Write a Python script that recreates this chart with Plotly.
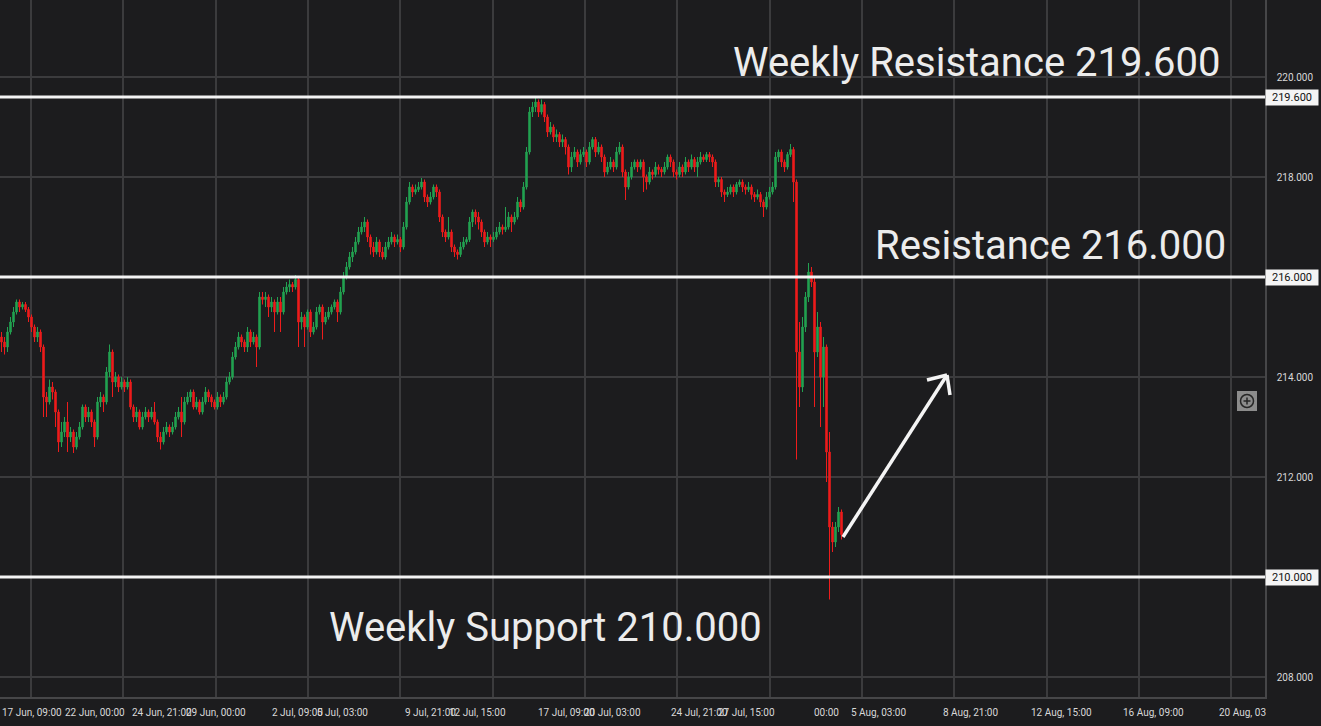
import plotly.graph_objects as go

# hourly-ish candles (open = previous close)
first_open = 214.8
closes = [
    214.7, 214.6, 214.9, 215.1, 215.3, 215.5, 215.4, 215.45, 215.35, 215.2,
    215.0, 214.8, 214.9, 214.6, 213.6, 213.5, 213.8, 213.7, 213.3, 212.7,
    212.9, 213.1, 212.8, 212.9, 212.6, 212.8, 213.0, 213.4, 213.2, 213.3,
    213.1, 212.8, 213.5, 213.6, 213.5, 214.1, 214.5, 213.9, 214.0, 213.8,
    213.9, 213.8, 213.9, 213.4, 213.2, 213.3, 213.0, 213.2, 213.3, 213.2,
    213.3, 213.1, 212.8, 212.7, 212.9, 213.0, 212.9, 213.0, 213.2, 213.3,
    213.1, 213.5, 213.6, 213.7, 213.4, 213.5, 213.3, 213.5, 213.7, 213.6,
    213.5, 213.4, 213.6, 213.5, 213.6, 213.9, 214.0, 214.4, 214.6, 214.8,
    214.7, 214.6, 214.9, 214.7, 214.8, 214.6, 215.6, 215.55, 215.6, 215.4,
    215.5, 215.3, 215.5, 215.3, 215.7, 215.8, 215.85, 215.8, 215.95, 215.1,
    215.2, 215.0, 215.3, 214.9, 215.0, 215.3, 215.4, 215.1, 215.2, 215.3,
    215.4, 215.5, 215.3, 215.7, 216.0, 216.2, 216.4, 216.5, 216.7, 216.9,
    217.0, 217.1, 216.8, 216.6, 216.5, 216.7, 216.5, 216.4, 216.6, 216.7,
    216.8, 216.7, 216.75, 216.6, 217.0, 217.5, 217.8, 217.7, 217.75, 217.8,
    217.9, 217.6, 217.5, 217.6, 217.8, 217.7, 217.2, 216.9, 216.8, 216.9,
    216.6, 216.5, 216.45, 216.6, 216.7, 216.75, 217.1, 217.3, 217.2, 217.1,
    216.9, 216.7, 216.8, 216.75, 216.8, 216.9, 217.0, 216.95, 217.0, 217.2,
    217.1, 217.2, 217.5, 217.4, 217.8, 218.5, 219.3, 219.4, 219.5, 219.3,
    219.45, 219.2, 218.9, 219.0, 218.8, 218.85, 218.7, 218.75, 218.6, 218.2,
    218.4, 218.5, 218.3, 218.45, 218.5, 218.3, 218.6, 218.75, 218.5, 218.6,
    218.4, 218.1, 218.2, 218.3, 218.2, 218.5, 218.6, 218.1, 217.8, 218.0,
    218.2, 218.3, 218.2, 218.3, 218.0, 217.9, 218.1, 218.05, 218.2, 218.15,
    218.1, 218.2, 218.4, 218.3, 218.1, 218.05, 218.2, 218.1, 218.3, 218.2,
    218.35, 218.2, 218.3, 218.4, 218.35, 218.45, 218.4, 218.3, 217.9, 217.95,
    217.7, 217.65, 217.7, 217.8, 217.7, 217.85, 217.9, 217.8, 217.75, 217.8,
    217.65, 217.6, 217.65, 217.5, 217.4, 217.6, 217.7, 217.8, 218.4, 218.5,
    218.3, 218.2, 218.45, 218.55, 217.9, 214.5, 213.8, 215.0, 215.6, 216.1,
    215.9, 214.5, 215.0, 214.0, 214.6, 212.5, 211.0, 210.7, 211.0, 211.3,
    210.85,
]
highs = [
    214.9, 214.8, 215.0, 215.2, 215.4, 215.55, 215.55, 215.5, 215.5, 215.4,
    215.25, 215.05, 215.0, 214.95, 214.65, 213.7, 213.95, 213.9, 213.75, 213.35,
    213.1, 213.2, 213.5, 213.0, 212.95, 212.9, 213.1, 213.45, 213.45, 213.4,
    213.35, 213.15, 213.6, 213.7, 213.65, 214.2, 214.65, 214.55, 214.1, 214.05,
    214.0, 213.95, 214.0, 213.95, 213.45, 213.4, 213.35, 213.3, 213.4, 213.35,
    213.4, 213.5, 213.15, 212.9, 213.0, 213.1, 213.05, 213.1, 213.3, 213.4,
    213.6, 213.6, 213.7, 213.75, 213.75, 213.6, 213.55, 213.6, 213.8, 213.75,
    213.65, 213.55, 213.7, 213.65, 213.7, 214.0, 214.1, 214.5, 214.7, 214.9,
    214.85, 214.75, 215.0, 214.95, 214.9, 214.85, 215.7, 215.7, 215.7, 215.65,
    215.6, 215.55, 215.6, 215.6, 215.8, 215.9, 215.95, 215.9, 216.04, 216.0,
    215.3, 215.25, 215.35, 215.35, 215.1, 215.4, 215.45, 215.45, 215.3, 215.4,
    215.45, 215.55, 215.55, 215.8, 216.1, 216.3, 216.5, 216.6, 216.8, 217.0,
    217.1, 217.2, 217.15, 216.85, 216.7, 216.8, 216.75, 216.6, 216.7, 216.8,
    216.9, 216.85, 216.85, 216.8, 217.1, 217.6, 217.9, 217.85, 217.85, 217.9,
    217.98, 217.95, 217.65, 217.7, 217.85, 217.85, 217.75, 217.25, 216.95, 217.2,
    216.95, 216.65, 216.55, 216.7, 216.8, 216.8, 217.2, 217.35, 217.35, 217.3,
    217.15, 216.95, 216.9, 216.85, 216.9, 217.0, 217.1, 217.05, 217.4, 217.3,
    217.25, 217.3, 217.6, 217.55, 217.9, 218.6, 219.4, 219.5, 219.58, 219.55,
    219.55, 219.5, 219.25, 219.1, 219.05, 218.95, 218.9, 218.85, 218.8, 218.65,
    218.5, 218.6, 218.55, 218.55, 218.6, 218.55, 218.7, 218.8, 218.8, 218.7,
    218.65, 218.45, 218.3, 218.4, 218.35, 218.6, 218.7, 218.65, 218.15, 218.1,
    218.3, 218.35, 218.35, 218.35, 218.35, 218.05, 218.2, 218.15, 218.3, 218.25,
    218.2, 218.3, 218.45, 218.45, 218.35, 218.15, 218.3, 218.25, 218.4, 218.35,
    218.45, 218.4, 218.4, 218.5, 218.45, 218.5, 218.5, 218.45, 218.35, 218.0,
    218.0, 217.75, 217.8, 217.85, 217.85, 217.9, 217.95, 217.95, 217.85, 217.9,
    217.85, 217.7, 217.75, 217.7, 217.55, 217.7, 217.8, 217.9, 218.5, 218.55,
    218.55, 218.35, 218.5, 218.66, 218.6, 217.95, 215.1, 215.2, 215.7, 216.28,
    216.2, 216.0, 215.3, 215.1, 214.8, 214.65, 212.9, 211.1, 211.1, 211.4,
    211.35,
]
lows = [
    214.5, 214.45, 214.5, 214.85, 215.0, 215.25, 215.3, 215.35, 215.3, 215.1,
    214.9, 214.7, 214.7, 214.5, 213.2, 213.2, 213.45, 213.55, 213.0, 212.5,
    212.6, 212.8, 212.5, 212.7, 212.48, 212.55, 212.75, 212.95, 213.1, 213.1,
    213.0, 212.6, 212.75, 213.4, 213.3, 213.45, 214.0, 213.6, 213.8, 213.7,
    213.75, 213.7, 213.75, 213.35, 213.1, 213.1, 212.95, 212.95, 213.15, 213.1,
    213.15, 213.05, 212.7, 212.55, 212.65, 212.85, 212.8, 212.85, 212.95, 213.15,
    212.8, 213.05, 213.45, 213.5, 213.35, 213.35, 213.25, 213.25, 213.45, 213.5,
    213.4, 213.35, 213.35, 213.4, 213.45, 213.55, 213.85, 213.95, 214.35, 214.55,
    214.6, 214.5, 214.5, 214.6, 214.65, 214.2, 214.55, 215.45, 215.4, 215.2,
    215.3, 214.9, 215.25, 214.9, 215.25, 215.65, 215.7, 215.7, 215.75, 214.6,
    214.95, 214.6, 214.95, 214.8, 214.85, 214.95, 215.25, 214.75, 215.05, 215.15,
    215.25, 215.35, 215.1, 215.25, 215.65, 215.95, 216.15, 216.3, 216.45, 216.65,
    216.85, 216.9, 216.7, 216.45, 216.4, 216.45, 216.4, 216.35, 216.35, 216.55,
    216.65, 216.6, 216.65, 216.5, 216.55, 216.95, 217.45, 217.6, 217.65, 217.7,
    217.75, 217.5, 217.4, 217.45, 217.55, 217.6, 217.1, 216.8, 216.7, 216.75,
    216.5, 216.4, 216.35, 216.4, 216.55, 216.65, 216.7, 217.0, 217.05, 216.95,
    216.8, 216.6, 216.65, 216.6, 216.7, 216.75, 216.85, 216.85, 216.9, 216.95,
    216.9, 217.05, 217.15, 217.3, 217.35, 217.75, 218.45, 219.2, 219.3, 219.2,
    219.25, 219.1, 218.8, 218.85, 218.7, 218.7, 218.6, 218.6, 218.45, 218.05,
    218.1, 218.35, 218.2, 218.25, 218.4, 218.2, 218.25, 218.55, 218.4, 218.45,
    218.3, 218.0, 218.05, 218.15, 218.1, 218.15, 218.45, 218.0, 217.54, 217.75,
    217.95, 218.15, 218.1, 218.15, 217.7, 217.75, 217.85, 217.95, 218.0, 218.05,
    218.0, 218.05, 218.15, 218.2, 218.0, 217.95, 218.0, 218.0, 218.05, 218.1,
    218.15, 218.1, 218.0, 218.25, 218.3, 218.3, 218.3, 218.2, 217.8, 217.8,
    217.6, 217.5, 217.6, 217.65, 217.6, 217.65, 217.8, 217.7, 217.65, 217.7,
    217.55, 217.5, 217.55, 217.4, 217.2, 217.35, 217.55, 217.65, 217.75, 218.3,
    218.2, 218.1, 218.15, 218.4, 217.5, 212.35, 213.4, 213.7, 214.9, 215.5,
    215.8, 213.4, 214.4, 213.0, 213.4, 211.9, 209.55, 210.5, 210.6, 210.9,
    210.75,
]
opens = [first_open] + closes[:-1]
candle_idx = list(range(len(closes)))

levels = [219.6, 216.0, 210.0]
level_tags = ["219.600", "216.000", "210.000"]
level_texts = ["Weekly Resistance 219.600", "Resistance 216.000", "Weekly Support 210.000"]
price_ticks = [208, 210, 212, 214, 216, 218, 220]
time_labels = ["17 Jun, 09:00", "22 Jun, 00:00", "24 Jun, 21:00", "29 Jun, 00:00",
               "2 Jul, 09:00", "5 Jul, 03:00", "9 Jul, 21:00", "12 Jul, 15:00",
               "17 Jul, 09:00", "20 Jul, 03:00", "24 Jul, 21:00", "27 Jul, 15:00",
               "00:00", "5 Aug, 03:00", "8 Aug, 21:00", "12 Aug, 15:00",
               "16 Aug, 09:00", "20 Aug, 03"]

# geometry (pixels)
W, H = 1321, 726
PW, PH = 1265, 697
BG = "#1c1c1e"
GRID = "#3b3b3d"
TXT = "#d8d8d8"
WHITE = "#f4f4f4"


def px2idx(p):
    return (p - 1.5) / 3.0


def py2price(p):
    return 220 - (p - 77) / 50.0


grid_px = [31, 123, 216, 308, 400, 493, 585, 677, 770, 862, 954, 1047, 1139, 1231]
label_px = [32, 95, 162, 216, 297, 342, 431, 477, 566, 612, 699, 746, 826, 878,
            970, 1061, 1153, 1217]

fig = go.Figure(go.Candlestick(
    x=candle_idx, open=opens, high=highs, low=lows, close=closes,
    increasing=dict(line=dict(color="#22a251", width=1), fillcolor="#22a251"),
    decreasing=dict(line=dict(color="#ee1c1c", width=1), fillcolor="#ee1c1c"),
    whiskerwidth=0, showlegend=False, hoverinfo="skip",
))

for lv, tag in zip(levels, level_tags):
    fig.add_shape(type="line", xref="paper", x0=0, x1=1, y0=lv, y1=lv,
                  line=dict(color=WHITE, width=3))
    fig.add_annotation(xref="paper", x=1, y=lv, xanchor="left", yanchor="middle",
                       text=tag, showarrow=False, bgcolor=WHITE, width=50,
                       font=dict(family="Roboto", size=11, color="#111"))

big = [(976, 62), (1050, 245), (545, 627)]
for t, (cx, cy) in zip(level_texts, big):
    fig.add_annotation(xref="paper", yref="paper", x=cx / PW, y=1 - cy / PH,
                       text=t, showarrow=False, xanchor="center", yanchor="middle",
                       font=dict(family="Roboto", size=40, color="#ececec"))

for t, p in zip(time_labels, label_px):
    last = t == time_labels[-1]
    fig.add_annotation(xref="paper", yref="paper", x=p / PW, y=-15 / PH,
                       text=t, showarrow=False,
                       xanchor="left" if last else "center", yanchor="middle",
                       font=dict(family="Roboto", size=10, color=TXT))

# hand-drawn arrow: shaft plus two open barbs
tip = (947, 375)
for start in [(843, 537), (927, 380), (950, 395)]:
    fig.add_shape(type="line", xref="x", yref="y",
                  x0=px2idx(start[0]), y0=py2price(start[1]),
                  x1=px2idx(tip[0]), y1=py2price(tip[1]),
                  line=dict(color=WHITE, width=3.5))

# zoom button
fig.add_shape(type="rect", xref="paper", yref="paper",
              x0=1237 / PW, x1=1257 / PW, y0=1 - 411 / PH, y1=1 - 391 / PH,
              fillcolor="#8c8c8c", line=dict(width=0))
fig.add_shape(type="circle", xref="paper", yref="paper",
              x0=1240.5 / PW, x1=1253.5 / PW, y0=1 - 407.5 / PH, y1=1 - 394.5 / PH,
              line=dict(color="#262626", width=1.5))
fig.add_shape(type="line", xref="paper", yref="paper",
              x0=1243.5 / PW, x1=1250.5 / PW, y0=1 - 401 / PH, y1=1 - 401 / PH,
              line=dict(color="#262626", width=1.5))
fig.add_shape(type="line", xref="paper", yref="paper",
              x0=1247 / PW, x1=1247 / PW, y0=1 - 404.5 / PH, y1=1 - 397.5 / PH,
              line=dict(color="#262626", width=1.5))

# tick labels at 210 and 216 sit under the level tags
tick_text = ["" if t in (210, 216) else f"{t:.3f}" for t in price_ticks]

fig.update_layout(
    width=W, height=H,
    margin=dict(l=0, r=W - PW, t=0, b=H - PH),
    paper_bgcolor=BG, plot_bgcolor=BG,
    font=dict(family="Roboto", color=TXT),
    xaxis=dict(range=[px2idx(0), px2idx(PW)], rangeslider=dict(visible=False),
               tickvals=[px2idx(p) for p in grid_px], showticklabels=False,
               showgrid=True, gridcolor=GRID, gridwidth=1.5, zeroline=False,
               showline=True, linecolor="#464648", linewidth=1.5, ticks=""),
    yaxis=dict(range=[220 - (PH - 77) / 50, 220 + 77 / 50], side="right",
               tickvals=price_ticks, ticktext=tick_text, showgrid=True,
               gridcolor=GRID, gridwidth=1.5, zeroline=False,
               showline=True, linecolor="#464648", linewidth=1.5, ticks="",
               ticklabelstandoff=8, tickfont=dict(size=10, color=TXT)),
)

fig.write_html("out.html", config={"displayModeBar": False},
               post_script="document.body.style.margin='0';"
               "document.body.style.background='#1c1c1e';")
